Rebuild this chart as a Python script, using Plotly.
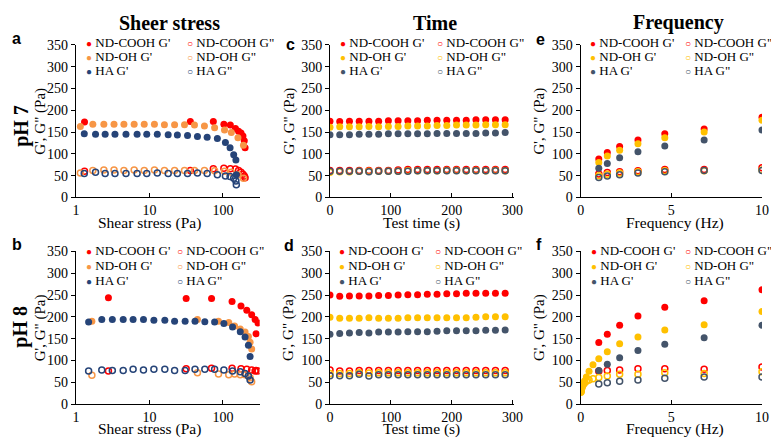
import plotly.graph_objects as go
from plotly.subplots import make_subplots

# the page keeps its default 8 px body margin, so the figure is 16 px smaller
# than the 779 x 448 window and all reference pixels are shifted by 8
OFF = 8
W, H = 779 - 2 * OFF, 448 - 2 * OFF

# ---- data: pH 7, shear stress sweep (panel a) ----
A_COOH_X = [1.31, 36, 74, 103, 126, 148, 163, 176, 187, 195, 200]
A_COOH_GP = [173, 174, 174, 168, 166, 158, 152, 148, 141, 130, 114]
A_COOH_GPP = [60, 62, 66, 67, 66, 65, 62, 58, 53, 49, 45]
A_OH_X = [1.15, 1.7, 2.4, 3.3, 4.5, 6.2, 8.5, 11.7, 16, 22, 30, 41, 56, 77, 105, 130, 160, 190]
A_OH_GP = [163, 168, 168, 168, 168, 168, 168, 168, 167, 167, 167, 166, 164, 160, 155, 149, 137, 120]
A_OH_GPP = [56, 62, 63, 63, 62, 63, 62, 63, 62, 62, 62, 62, 62, 61, 60, 58, 52, 44]
A_HA_X = [1.3, 1.85, 2.5, 3.4, 4.8, 6.8, 9.2, 12.8, 18, 24, 33, 45, 61, 84, 108, 125, 140, 150, 152]
A_HA_GP = [146, 145, 145, 145, 145, 145, 145, 145, 144, 143, 142, 140, 138, 135, 126, 114, 98, 86, 52]
A_HA_GPP = [55, 58, 55, 55, 55, 55, 55, 56, 55, 55, 55, 56, 55, 52, 49, 48, 44, 38, 29]

# ---- data: pH 8, shear stress sweep (panel b) ----
B_COOH_X = [2.77, 31.6, 70, 133, 176, 211, 246, 274, 300, 282]
B_COOH_GP = [244, 242, 242, 235, 225, 215, 205, 194, 186, 161]
B_COOH_GPP = [76, 81, 82, 82, 81, 80, 78, 76, 76, 77]
B_OH_X = [1.65, 45, 87, 120, 144, 172, 200, 222, 234, 246]
B_OH_GP = [190, 194, 190, 187, 179, 172, 165, 155, 142, 126]
B_OH_GPP = [66, 72, 69, 67, 69, 67, 67, 65, 60, 51]
B_HA_X = [1.49, 2.25, 3.13, 4.4, 6.0, 8.3, 11.5, 16.2, 22, 30.6, 41.7, 56.7, 77, 103, 135, 172, 200, 222, 234]
B_HA_GP = [188, 194, 194, 194, 194, 194, 192, 192, 190, 190, 190, 189, 188, 185, 177, 166, 154, 135, 109]
B_HA_GPP = [76, 78, 77, 77, 80, 78, 80, 80, 77, 77, 80, 80, 80, 78, 76, 74, 70, 64, 55]

# ---- data: time sweeps (panels c, d) ----
TIME_S = [0, 16, 32, 48, 64, 80, 96, 112, 128, 144, 160, 176, 192, 208, 224, 240, 256, 272, 288]
C_COOH_GP = [175, 174, 175, 175, 175, 175, 176, 176, 176, 176, 177, 177, 177, 177, 177, 178, 178, 178, 178]
C_COOH_GPP = [62, 62, 62, 62, 62, 62, 62, 63, 64, 64, 64, 64, 64, 64, 64, 64, 64, 64, 64]
C_OH_GP = [161, 162, 162, 162, 163, 162, 163, 163, 164, 164, 164, 165, 165, 166, 166, 166, 167, 167, 167]
C_OH_GPP = [58, 59, 59, 60, 60, 60, 60, 60, 61, 61, 61, 61, 62, 62, 61, 62, 61, 62, 61]
C_HA_GP = [144, 144, 144, 145, 145, 145, 146, 146, 146, 146, 146, 147, 147, 147, 147, 147, 148, 148, 149]
C_HA_GPP = [60, 60, 60, 60, 59, 60, 60, 60, 60, 61, 61, 61, 61, 61, 61, 61, 61, 61, 61]
D_COOH_GP = [250, 247, 248, 248, 248, 249, 249, 250, 251, 251, 252, 252, 253, 253, 254, 254, 254, 254, 254]
D_COOH_GPP = [78, 76, 76, 77, 77, 77, 77, 77, 77, 77, 77, 77, 77, 77, 77, 77, 77, 77, 77]
D_OH_GP = [199, 197, 197, 197, 198, 197, 197, 197, 198, 198, 198, 198, 198, 198, 198, 199, 200, 200, 200]
D_OH_GPP = [70, 70, 70, 72, 71, 72, 72, 72, 72, 72, 72, 72, 72, 72, 72, 72, 72, 72, 72]
D_HA_GP = [160, 162, 163, 164, 163, 165, 165, 165, 166, 166, 166, 167, 168, 168, 168, 168, 169, 169, 170]
D_HA_GPP = [65, 65, 65, 68, 64, 67, 67, 67, 67, 67, 67, 67, 67, 67, 67, 67, 67, 67, 67]

# ---- data: frequency sweeps (panels e, f) ----
FREQ_HZ = [1, 1.47, 2.15, 3.16, 4.64, 6.81, 10]
E_COOH_GP = [88, 103, 117, 132, 146, 157, 184]
E_COOH_GPP = [54, 57, 59, 61, 64, 64, 68]
E_OH_GP = [80, 95, 108, 123, 137, 150, 177]
E_OH_GPP = [50, 53, 56, 59, 61, 61, 63]
E_HA_GP = [67, 78, 91, 105, 118, 132, 155]
E_HA_GPP = [46, 49, 52, 56, 59, 62, 62]
F_COOH_GP = [141, 160, 181, 202, 222, 237, 262]
F_COOH_GPP = [75, 77, 78, 81, 81, 80, 85]
F_OH_FREQ = [0.01, 0.0147, 0.0215, 0.0316, 0.0464, 0.0681, 0.1, 0.147, 0.215, 0.316,
             0.464, 0.681, 1, 1.47, 2.15, 3.16, 4.64, 6.81, 10]
F_OH_GP = [29, 30, 31, 33, 35, 38, 42, 47, 53, 62, 75, 90, 104, 120, 138, 154, 170, 182, 212]
F_OH_GPP = [27, 28, 30, 32, 35, 38, 42, 45, 48, 52, 55, 58, 61, 64, 68, 68, 72, 70, 74]
F_HA_GP = [77, 91, 106, 123, 137, 152, 181]
F_HA_GPP = [46, 49, 52, 55, 59, 62, 62]

NAMES = ["ND-COOH G'", 'ND-COOH G"', "ND-OH G'", 'ND-OH G"', "HA G'", 'HA G"']

RED = "#ff0000"
ORANGE = "#f79646"
YELLOW = "#ffc000"
NAVY = "#264478"
SLATE = "#44546a"

SERIF = "Liberation Serif"

# panel -> (row, col, list of (x, y) per series in NAMES order, colours)
panels = {
    "a": (1, 1, [(A_COOH_X, A_COOH_GP), (A_COOH_X, A_COOH_GPP), (A_OH_X, A_OH_GP),
                 (A_OH_X, A_OH_GPP), (A_HA_X, A_HA_GP), (A_HA_X, A_HA_GPP)],
          [RED, RED, ORANGE, ORANGE, NAVY, NAVY]),
    "b": (2, 1, [(B_COOH_X, B_COOH_GP), (B_COOH_X, B_COOH_GPP), (B_OH_X, B_OH_GP),
                 (B_OH_X, B_OH_GPP), (B_HA_X, B_HA_GP), (B_HA_X, B_HA_GPP)],
          [RED, RED, ORANGE, ORANGE, NAVY, NAVY]),
    "c": (1, 2, [(TIME_S, C_COOH_GP), (TIME_S, C_COOH_GPP), (TIME_S, C_OH_GP),
                 (TIME_S, C_OH_GPP), (TIME_S, C_HA_GP), (TIME_S, C_HA_GPP)],
          [RED, RED, YELLOW, YELLOW, SLATE, SLATE]),
    "d": (2, 2, [(TIME_S, D_COOH_GP), (TIME_S, D_COOH_GPP), (TIME_S, D_OH_GP),
                 (TIME_S, D_OH_GPP), (TIME_S, D_HA_GP), (TIME_S, D_HA_GPP)],
          [RED, RED, YELLOW, YELLOW, SLATE, SLATE]),
    "e": (1, 3, [(FREQ_HZ, E_COOH_GP), (FREQ_HZ, E_COOH_GPP), (FREQ_HZ, E_OH_GP),
                 (FREQ_HZ, E_OH_GPP), (FREQ_HZ, E_HA_GP), (FREQ_HZ, E_HA_GPP)],
          [RED, RED, YELLOW, YELLOW, SLATE, SLATE]),
    "f": (2, 3, [(FREQ_HZ, F_COOH_GP), (FREQ_HZ, F_COOH_GPP), (F_OH_FREQ, F_OH_GP),
                 (F_OH_FREQ, F_OH_GPP), (FREQ_HZ, F_HA_GP), (FREQ_HZ, F_HA_GPP)],
          [RED, RED, YELLOW, YELLOW, SLATE, SLATE]),
}

# pixel geometry (window pixels) of the plot areas
COL_PX = {1: (73, 260), 2: (331.5, 519), 3: (586.5, 771)}
ROW_PX = {1: (39, 197), 2: (253, 411)}
# legend marker offsets (col 1, col 2) from the left spine, and row centres
LEG_DX = {"a": (12, 114), "b": (12, 104), "c": (12, 110), "d": (11, 108), "e": (11, 108), "f": (12, 108)}
LEG_ROWS = {1: (36, 51, 66), 2: (252, 267, 283)}
LETTER_PX = {"a": (13, 32), "b": (13, 246), "c": (291, 39), "d": (290, 247), "e": (546, 33), "f": (544, 246)}
YTITLE_PX = {1: 37, 2: 290, 3: 544.5}


def px(x):
    return (x - OFF) / W


def py(y):
    return 1 - (y - OFF) / H


def label(x, y, text, size, family=SERIF, angle=0, xanchor="center"):
    return dict(x=px(x), y=py(y), xref="paper", yref="paper", showarrow=False,
                xanchor=xanchor, yanchor="middle", textangle=angle, text=text,
                font=dict(family=family, size=size, color="black"))


fig = make_subplots(rows=2, cols=3)
annotations = []

for key, (row, col, series, colors) in panels.items():
    x0, x1 = COL_PX[col]
    y0, y1 = ROW_PX[row]
    for i, ((xs, ys), c) in enumerate(zip(series, colors)):
        filled = i % 2 == 0
        fig.add_trace(
            go.Scatter(
                x=xs, y=ys, mode="markers", name=NAMES[i], showlegend=False,
                marker=dict(
                    symbol="circle" if filled else "circle-open",
                    size=7 if filled else 6,
                    color=c,
                    line=dict(width=0 if filled else 1.5, color=c),
                ),
            ),
            row=row, col=col,
        )
        # legend entry written as text
        glyph = "\u25CF" if filled else "\u25CB"
        annotations.append(label(
            x0 + LEG_DX[key][i % 2] - 3.5, LEG_ROWS[row][i // 2],
            f"<span style='font-size:10px;color:{c}'>{glyph}</span> {NAMES[i]}",
            13, xanchor="left"))

    fig.update_xaxes(domain=[px(x0), min(px(x1), 1)], row=row, col=col)
    fig.update_yaxes(domain=[py(y1), py(y0)], row=row, col=col)

    # panel letter and y-axis title
    lx, ly = LETTER_PX[key]
    annotations.append(label(lx, ly, f"<b>{key}</b>", 16, family="Liberation Sans"))
    annotations.append(label(YTITLE_PX[col], (y0 + y1) / 2, "G', G\" (Pa)", 15, angle=-90))

X_TITLES = {1: "Shear stress (Pa)", 2: "Test time (s)", 3: "Frequency (Hz)"}
X_TITLE_PX = {1: 148, 2: 425, 3: 682}
for row, yy in ((1, 223), (2, 437)):
    for col in (1, 2, 3):
        annotations.append(label(X_TITLE_PX[col], yy, X_TITLES[col], 15.5))

for text, xx, yy in (("Sheer stress", 168, 16), ("Time", 438, 16), ("Frequency", 686, 16)):
    annotations.append(label(xx, yy, f"<b>{text}</b>", 20))

for text, yy in (("pH 7", 123), ("pH 8", 331)):
    annotations.append(label(17, yy, f"<b>{text}</b>", 20, angle=-90))

axis_style = dict(
    showline=True, linecolor="black", linewidth=1, showgrid=False, zeroline=False,
    tickfont=dict(family=SERIF, size=14, color="black"), tickcolor="black",
)
fig.update_xaxes(**axis_style, ticks="inside", ticklen=4)
fig.update_yaxes(**axis_style, ticks="outside", ticklen=4, range=[0, 350],
                 tickvals=[0, 50, 100, 150, 200, 250, 300, 350])

for row in (1, 2):
    fig.update_xaxes(type="log", range=[0, 2.5], tickvals=[1, 10, 100], ticktext=["1", "10", "100"],
                     row=row, col=1)
    fig.update_xaxes(range=[0, 303], tickvals=[0, 100, 200, 300], row=row, col=2)
    fig.update_xaxes(range=[0, 10.0], tickvals=[0, 5, 10], row=row, col=3)

fig.update_layout(
    width=W, height=H, margin=dict(l=0, r=0, t=0, b=0),
    plot_bgcolor="white", paper_bgcolor="white",
    showlegend=False, annotations=annotations,
)

fig.write_html("out.html", config={"displayModeBar": False})
